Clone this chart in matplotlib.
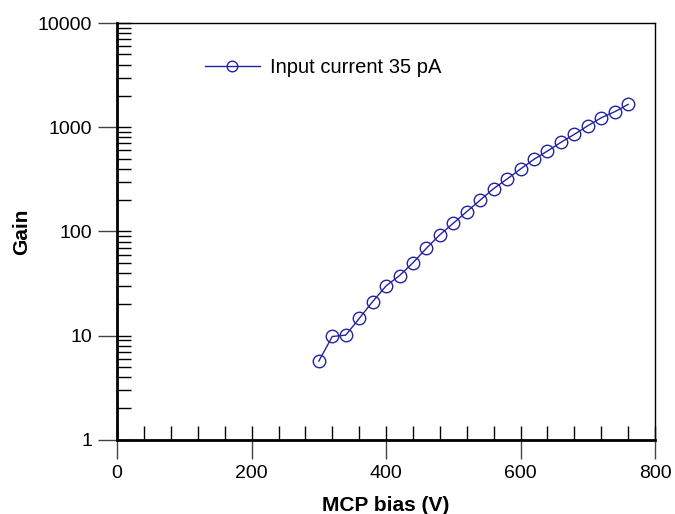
import numpy as np
import matplotlib.pyplot as plt
from matplotlib.ticker import FixedLocator, LogLocator, NullFormatter

plt.rcParams['font.family'] = ['Liberation Sans', 'DejaVu Sans']

# MCP bias (V) and gain
bias = [300, 320, 340, 360, 380, 400, 420, 440, 460, 480, 500, 520,
        540, 560, 580, 600, 620, 640, 660, 680, 700, 720, 740, 760]
gain = [5.7, 9.8, 10.1, 14.6, 21.2, 30, 37.7, 50, 69, 93, 120, 155,
        200, 258, 319, 398, 493, 592, 717, 856, 1035, 1235, 1410, 1660]

x_ticks = [0, 200, 400, 600, 800]
y_ticks = [1, 10, 100, 1000, 10000]
y_labels = ['1', '10', '100', '1000', '10000']

col = '#2323a0'

fig = plt.figure(figsize=(6.75, 5.14), dpi=100)
ax = fig.add_axes([0.1735, 0.1445, 0.797, 0.8105])

ax.plot(bias, gain, '-o', color=col, lw=1, mfc='none', mec=col,
        ms=9, mew=1, label='Input current 35 pA')

ax.set_yscale('log')
ax.set_xlim(0, 800)
ax.set_ylim(1, 10000)

ax.set_xticks(x_ticks)
ax.set_xticklabels([str(v) for v in x_ticks])
ax.set_yticks(y_ticks)
ax.set_yticklabels(y_labels)
# minor ticks also sit on the majors (inward part of the major ticks)
ax.xaxis.remove_overlapping_locs = False
ax.yaxis.remove_overlapping_locs = False
ax.xaxis.set_minor_locator(FixedLocator(np.arange(0, 801, 40)))
ax.yaxis.set_minor_locator(LogLocator(base=10, subs=np.arange(1, 10), numticks=20))
ax.yaxis.set_minor_formatter(NullFormatter())

ax.tick_params(which='major', direction='out', length=14, width=1,
               color='#444444', labelsize=14)
ax.tick_params(axis='x', which='major', pad=4)
ax.tick_params(axis='y', which='major', pad=4)
ax.tick_params(which='minor', direction='in', length=10, width=1)
ax.tick_params(top=False, right=False, which='both')

ax.spines['left'].set_linewidth(2)
ax.spines['bottom'].set_linewidth(2)
ax.spines['top'].set_linewidth(1)
ax.spines['right'].set_linewidth(1)

ax.set_xlabel('MCP bias (V)', fontsize=15, fontweight='bold', labelpad=10)
ax.set_ylabel('Gain', fontsize=15, fontweight='bold', labelpad=5)

ax.legend(loc='upper left', bbox_to_anchor=(0.13, 0.96), frameon=False,
          fontsize=14.5, markerscale=0.85, handlelength=2.7, handletextpad=0.5)

fig.savefig('out.png', dpi=100)
